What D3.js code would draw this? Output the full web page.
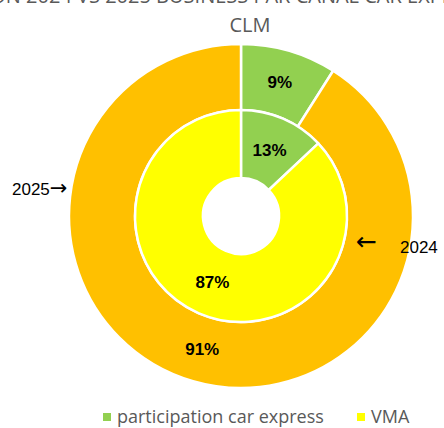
<!DOCTYPE html>
<html>
<head>
<meta charset="utf-8">
<script src="https://cdn.jsdelivr.net/npm/d3@7"></script>
<style>
  body { margin: 0; background: #fff; }
  svg { display: block; }
</style>
</head>
<body>
<div id="chart"></div>
<script>
const width = 444;
const height = 428;

// data
const categories = ["participation car express", "VMA"];
const values2024 = [13, 87];   // inner ring
const values2025 = [9, 91];    // outer ring
const innerColors = ["#92D050", "#FFFF00"];
const outerColors = ["#92D050", "#FFC000"];
const legendColors = ["#92D050", "#FFFF00"];

const cx = 241, cy = 216;
const rHole = 38, rMid = 106, rOuter = 172;

const svg = d3.select("#chart").append("svg")
    .attr("width", width)
    .attr("height", height);

// heading line, cut off by the top edge as in the original
svg.append("text")
    .attr("x", width / 2)
    .attr("y", 3)
    .attr("text-anchor", "middle")
    .style("font-family", "'Open Sans', sans-serif")
    .style("font-size", "20px")
    .attr("fill", "#595959")
    .text("RÉPARTITION 2024 VS 2025 BUSINESS PAR CANAL CAR EXPRESS / VMA");

svg.append("text")
    .attr("x", 250)
    .attr("y", 32)
    .attr("text-anchor", "middle")
    .style("font-family", "'Open Sans', sans-serif")
    .style("font-size", "20px")
    .attr("fill", "#595959")
    .text("CLM");

const pie = d3.pie().sort(null).value(d => d);
const g = svg.append("g").attr("transform", `translate(${cx},${cy})`);

const outerArc = d3.arc().innerRadius(rMid).outerRadius(rOuter);
const innerArc = d3.arc().innerRadius(rHole).outerRadius(rMid);

const outerData = pie(values2025);
const innerData = pie(values2024);

g.selectAll(".outer")
    .data(outerData)
    .enter().append("path")
    .attr("class", "outer")
    .attr("d", outerArc)
    .attr("fill", (d, i) => outerColors[i])
    .attr("stroke", "#fff")
    .attr("stroke-width", 2.5);

g.selectAll(".inner")
    .data(innerData)
    .enter().append("path")
    .attr("class", "inner")
    .attr("d", innerArc)
    .attr("fill", (d, i) => innerColors[i])
    .attr("stroke", "#fff")
    .attr("stroke-width", 2.5);

const labelStyle = sel => sel
    .attr("text-anchor", "middle")
    .attr("dy", "0.35em")
    .style("font-family", "'Liberation Sans', Arial, sans-serif")
    .style("font-weight", "bold")
    .style("font-size", "17px")
    .attr("fill", "#000");

g.selectAll(".olabel")
    .data(outerData)
    .enter().append("text")
    .attr("transform", d => `translate(${outerArc.centroid(d)})`)
    .call(labelStyle)
    .text(d => d.data + "%");

g.selectAll(".ilabel")
    .data(innerData)
    .enter().append("text")
    .attr("transform", d => `translate(${innerArc.centroid(d)})`)
    .call(labelStyle)
    .text(d => d.data + "%");

// ring annotations
const noteStyle = sel => sel
    .style("font-family", "'Liberation Sans', Arial, sans-serif")
    .style("font-size", "17px")
    .attr("fill", "#000");

const n2025 = svg.append("text")
    .attr("x", 12)
    .attr("y", 195)
    .call(noteStyle);
n2025.append("tspan").text("2025");
n2025.append("tspan")
    .style("font-family", "'DejaVu Sans', sans-serif")
    .style("font-size", "21px")
    .text("\u2192");

svg.append("text")
    .attr("x", 356)
    .attr("y", 250)
    .style("font-family", "'DejaVu Sans', sans-serif")
    .style("font-size", "25px")
    .attr("fill", "#000")
    .text("\u2190");

svg.append("text")
    .attr("x", 400)
    .attr("y", 253)
    .call(noteStyle)
    .text("2024");

// legend
const legendX = [103, 357];
const legend = svg.selectAll(".legend")
    .data(categories)
    .enter().append("g")
    .attr("transform", (d, i) => `translate(${legendX[i]}, 413)`);

legend.append("rect")
    .attr("width", 8)
    .attr("height", 8)
    .attr("fill", (d, i) => legendColors[i]);

legend.append("text")
    .attr("x", 14)
    .attr("y", 10)
    .style("font-family", "'Open Sans', sans-serif")
    .style("font-size", "18px")
    .attr("fill", "#595959")
    .text(d => d);
</script>
</body>
</html>
